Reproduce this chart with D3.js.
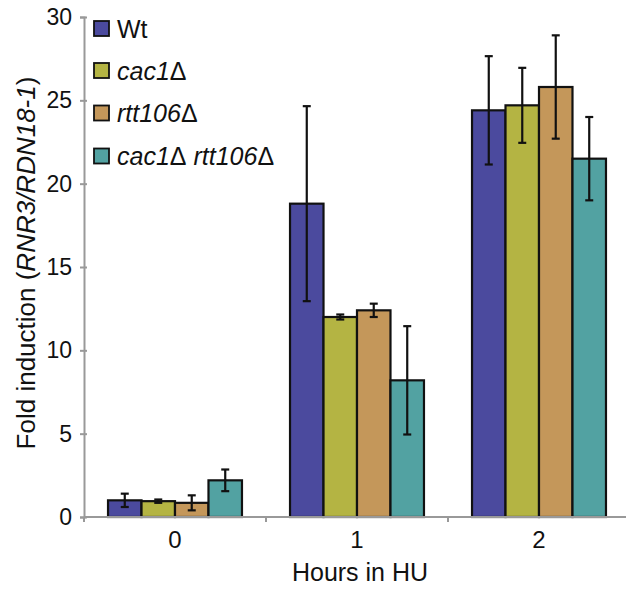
<!DOCTYPE html>
<html><head><meta charset="utf-8">
<script src="https://cdn.jsdelivr.net/npm/d3@7"></script>
<style>body{margin:0;background:#fff}svg{display:block}</style>
</head><body>
<svg id="c" width="626" height="589"></svg>
<script>
const hours = ["0", "1", "2"];
const seriesNames = ["Wt", "cac1", "rtt106", "cac1 rtt106"];
const colors = ["#4B4A9E", "#B4B443", "#C4975A", "#52A2A2"];
const wtMean = [1.0, 18.8, 24.4];
const wtErr = [0.4, 5.85, 3.25];
const cac1Mean = [0.95, 12.0, 24.7];
const cac1Err = [0.1, 0.15, 2.25];
const rttMean = [0.85, 12.4, 25.8];
const rttErr = [0.45, 0.4, 3.1];
const dblMean = [2.2, 8.2, 21.5];
const dblErr = [0.65, 3.25, 2.5];
const yTicks = [0, 5, 10, 15, 20, 25, 30];

const means = [wtMean, cac1Mean, rttMean, dblMean];
const errs = [wtErr, cac1Err, rttErr, dblErr];
const data = [];
hours.forEach((h, i) => seriesNames.forEach((s, j) => data.push({h, s, j, v: means[j][i], e: errs[j][i]})));

const svg = d3.select("#c");
const mLeft = 84, mRight = 630, mTop = 17, mBottom = 517;
const x0 = d3.scaleBand().domain(hours).range([mLeft, mRight]).paddingInner(0.264).paddingOuter(0.132);
const x1 = d3.scaleBand().domain(seriesNames).range([0, x0.bandwidth()]);
const y = d3.scaleLinear().domain([0, 30]).range([mBottom, mTop]);
const font = "Arial, 'Liberation Sans', sans-serif";

// bars
svg.append("g").selectAll("rect").data(data).join("rect")
  .attr("x", d => x0(d.h) + x1(d.s))
  .attr("y", d => y(d.v))
  .attr("width", x1.bandwidth())
  .attr("height", d => y(0) - y(d.v))
  .attr("fill", d => colors[d.j])
  .attr("stroke", "#111").attr("stroke-width", 2.2);

// error bars
const eg = svg.append("g").attr("stroke", "#111").attr("stroke-width", 2.2);
data.forEach(d => {
  const cx = x0(d.h) + x1(d.s) + x1.bandwidth() / 2;
  eg.append("line").attr("x1", cx).attr("x2", cx).attr("y1", y(d.v + d.e)).attr("y2", y(d.v - d.e));
  [d.v + d.e, d.v - d.e].forEach(v => eg.append("line").attr("x1", cx - 4).attr("x2", cx + 4).attr("y1", y(v)).attr("y2", y(v)));
});

// y axis
const ya = svg.append("g").attr("transform", `translate(${mLeft},0)`)
  .call(d3.axisLeft(y).tickValues(yTicks).tickSize(4).tickPadding(8));
ya.select(".domain").attr("stroke", "#999").attr("stroke-width", 2);
ya.selectAll(".tick line").attr("stroke", "#999").attr("stroke-width", 2).attr("x1", 3);
ya.selectAll(".tick text").attr("font-family", font).attr("font-size", 23).attr("fill", "#111");

// x axis
const xa = svg.append("g").attr("transform", `translate(0,${mBottom})`);
xa.append("line").attr("x1", mLeft).attr("x2", mRight).attr("y1", 0).attr("y2", 0).attr("stroke", "#999").attr("stroke-width", 2);
const step = x0.step();
[0, 1, 2].forEach(i => {
  const bx = mLeft + step * i;
  xa.append("line").attr("x1", bx).attr("x2", bx).attr("y1", 0).attr("y2", 5).attr("stroke", "#999").attr("stroke-width", 2);
});
xa.selectAll("text").data(hours).join("text")
  .attr("x", d => x0(d) + x0.bandwidth() / 2).attr("y", 31)
  .attr("text-anchor", "middle").attr("font-family", font).attr("font-size", 24).attr("fill", "#111")
  .text(d => d);

// x title
svg.append("text").attr("x", 360).attr("y", 581).attr("text-anchor", "middle")
  .attr("font-family", font).attr("font-size", 25).attr("fill", "#111").text("Hours in HU");

// y title
const yt = svg.append("text").attr("transform", "translate(35,263) rotate(-90)")
  .attr("text-anchor", "middle").attr("font-family", font).attr("font-size", 26).attr("fill", "#111");
yt.append("tspan").text("Fold induction (");
yt.append("tspan").attr("font-style", "italic").text("RNR3/RDN18-1");
yt.append("tspan").text(")");

// legend
const lg = svg.append("g");
const rowsY = [28.5, 70.5, 113, 156];
seriesNames.forEach((s, j) => {
  lg.append("rect").attr("x", 94).attr("y", rowsY[j] - 7.5).attr("width", 15).attr("height", 15)
    .attr("fill", colors[j]).attr("stroke", "#111").attr("stroke-width", 1.8);
  const t = lg.append("text").attr("x", 117).attr("y", rowsY[j] + 9)
    .attr("font-family", font).attr("font-size", 25).attr("fill", "#111");
  if (j === 0) t.text(s);
  else {
    s.split(" ").forEach((part, k) => {
      t.append("tspan").attr("font-style", "italic").text((k ? " " : "") + part);
      t.append("tspan").text("Δ");
    });
  }
});
</script>
</body></html>
